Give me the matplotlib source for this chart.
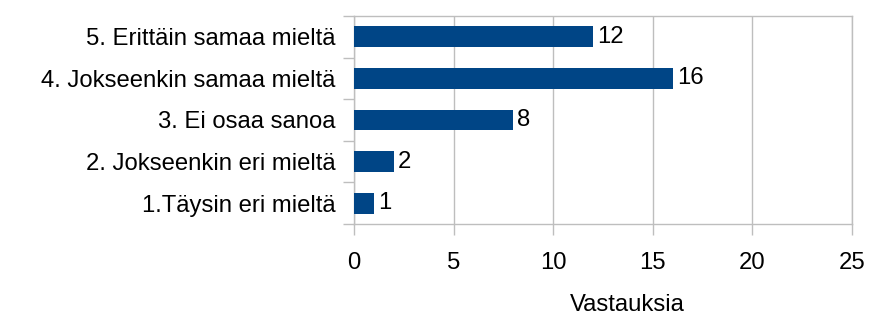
import numpy as np
import matplotlib
matplotlib.use("Agg")
import matplotlib.pyplot as plt

plt.rcParams["font.family"] = ["Liberation Sans", "DejaVu Sans"]

categories = ["1.Täysin eri mieltä", "2. Jokseenkin eri mieltä", "3. Ei osaa sanoa",
              "4. Jokseenkin samaa mieltä", "5. Erittäin samaa mieltä"]
counts = [1, 2, 8, 16, 12]
xticks = [0, 5, 10, 15, 20, 25]

BAR = "#004586"
GRID = "#bebebe"
FS = 17.2

fig = plt.figure(figsize=(8.7, 3.2), dpi=100)
ax = fig.add_axes([354 / 870, 1 - 224 / 320, 498 / 870, 208 / 320])

y = np.arange(len(categories))
ax.barh(y, counts, height=0.5, color=BAR, zorder=3)
for yi, v in zip(y, counts):
    ax.text(v + 0.2, yi, str(v), va="center", ha="left", fontsize=FS, color="black")

ax.set_xlim(0, 25)
ax.set_ylim(-0.5, len(categories) - 0.5)
ax.set_xticks(xticks)
ax.set_xticklabels([str(t) for t in xticks], fontsize=FS)
ax.set_yticks(y)
ax.set_yticklabels(categories, fontsize=FS)
ax.set_yticks(np.arange(-0.5, len(categories)), minor=True)

ax.tick_params(axis="y", which="major", length=0, pad=13.5)
ax.tick_params(axis="y", which="minor", length=8, color=GRID, width=1)
ax.tick_params(axis="x", length=8, color=GRID, width=1, pad=12.5)

ax.grid(axis="x", color=GRID, lw=1, zorder=0)
for s in ax.spines.values():
    s.set_color(GRID)
    s.set_linewidth(1)

ax.set_xlabel("Vastauksia", fontsize=FS, labelpad=14)
ax.xaxis.label.set_x((627 - 354) / 498)

fig.savefig("out.png", dpi=100)
